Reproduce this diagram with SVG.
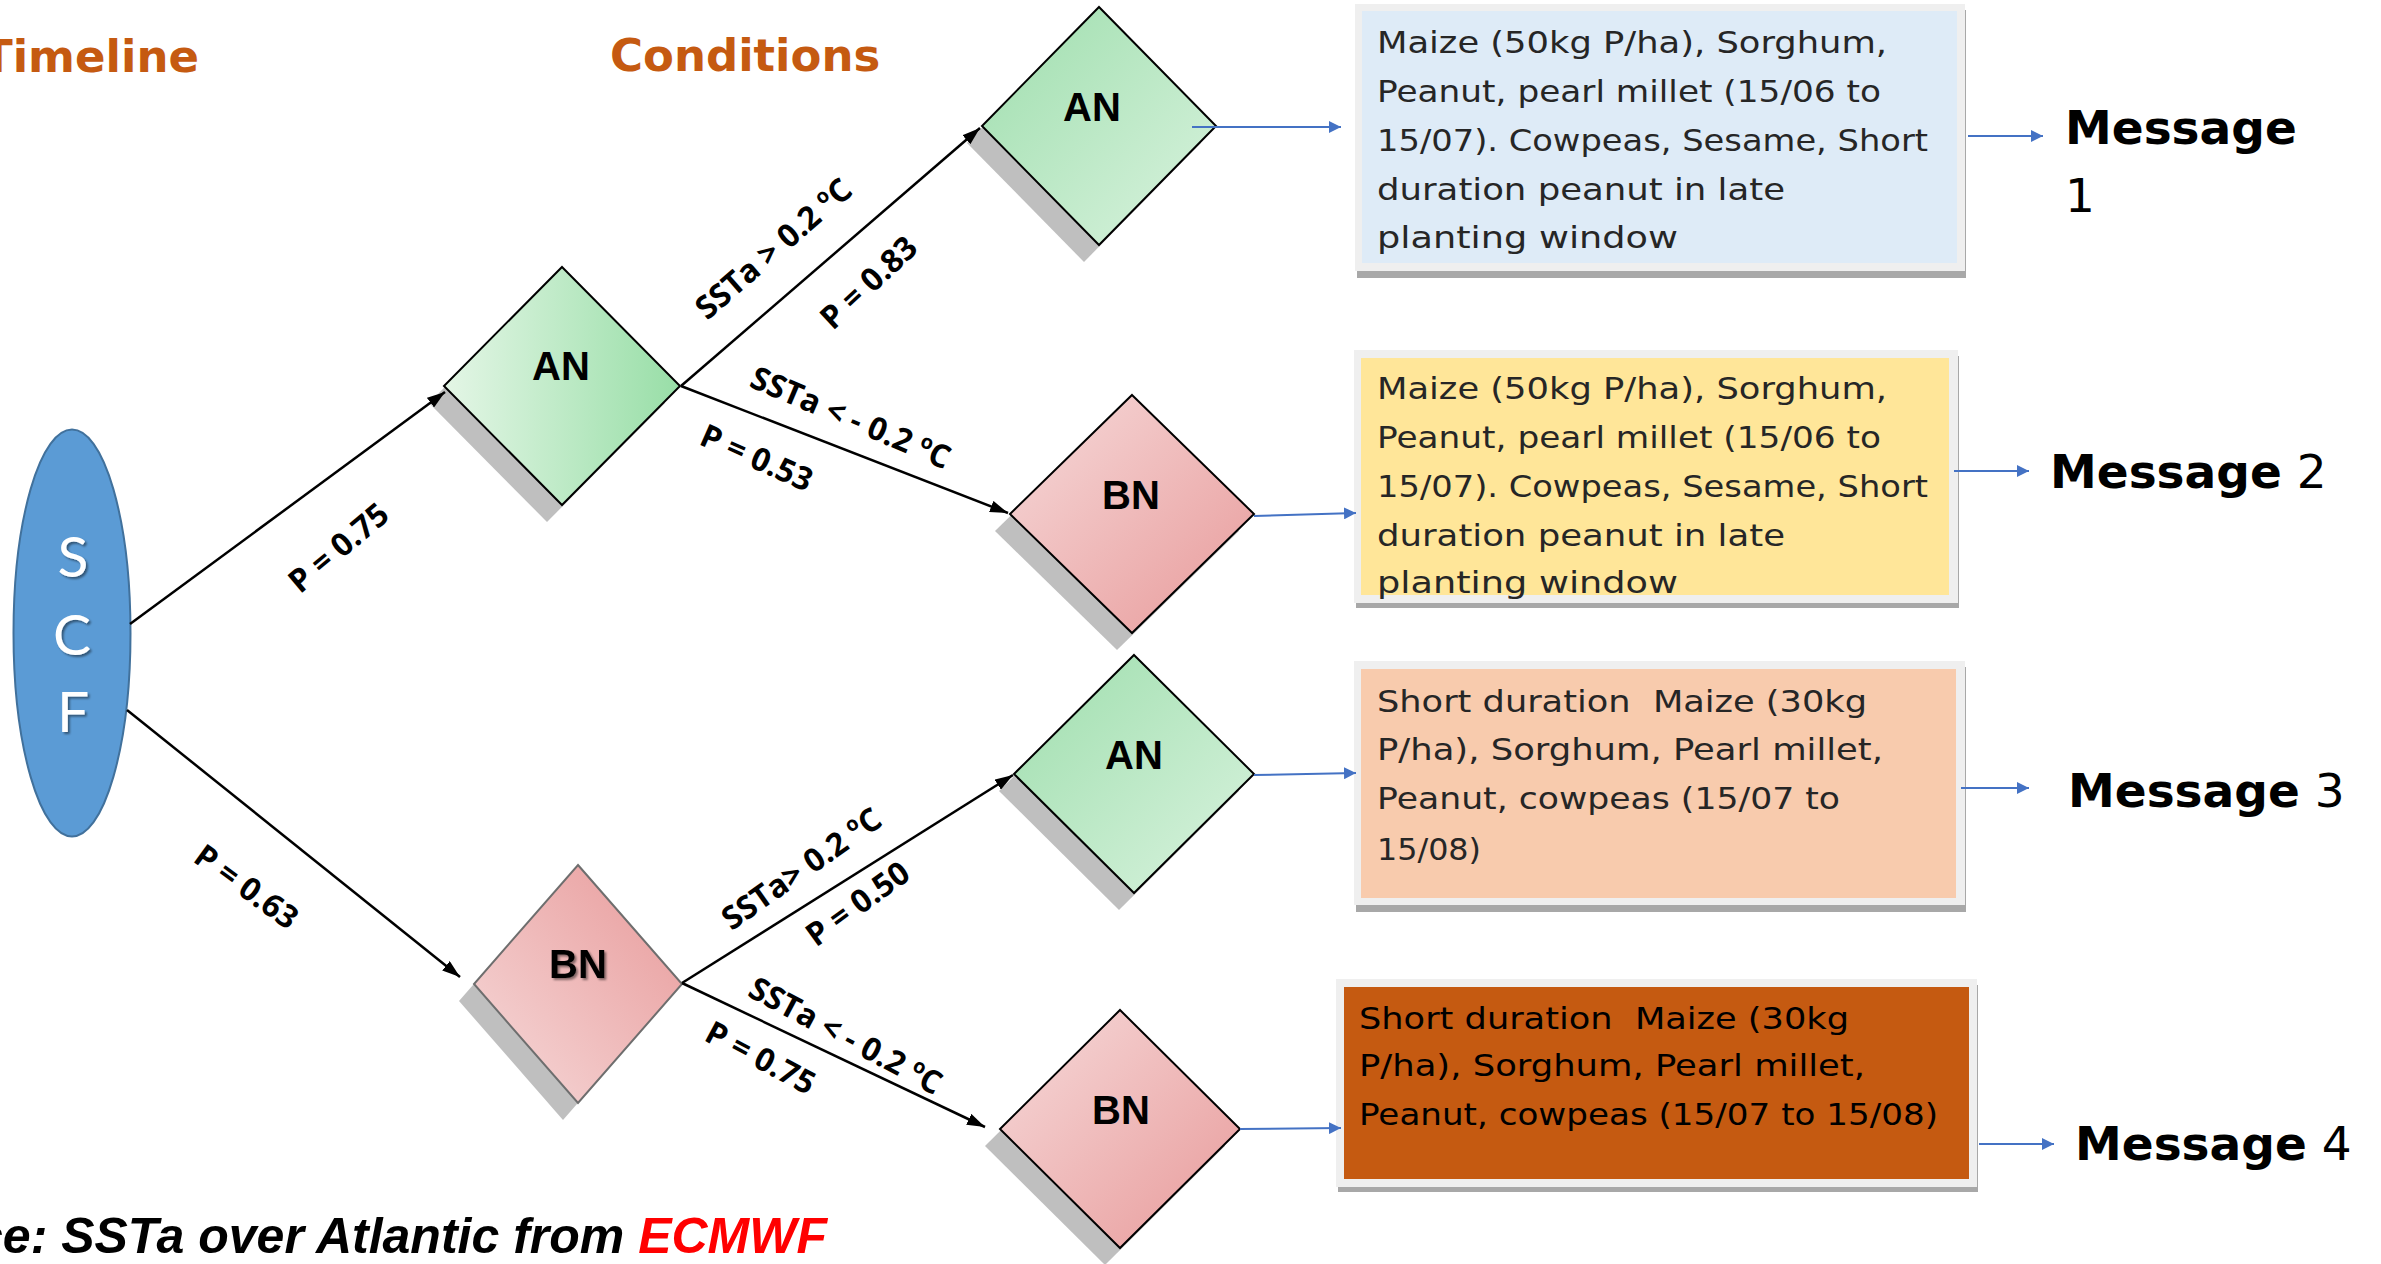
<svg xmlns="http://www.w3.org/2000/svg" width="2381" height="1264" viewBox="0 0 2381 1264">
<defs>
<style>
.hdr{font-family:"DejaVu Sans","Open Sans",sans-serif;font-weight:bold;font-size:45px;fill:#C55A11}
.shadow{fill:#BFBFBF}
.dia{stroke:#000;stroke-width:2}
.dtxt{font-family:"Liberation Sans",Arial,sans-serif;font-weight:bold;font-size:40px;fill:#000;text-anchor:middle}
.lbl{font-family:"Open Sans","Noto Sans",sans-serif;font-weight:bold;font-size:32px;fill:#000;text-anchor:middle}
.sup{font-size:20px}
.conn{stroke:#000;stroke-width:2.5;fill:none;marker-end:url(#ah)}
.bconn{stroke:#4472C4;stroke-width:2;fill:none;marker-end:url(#bh)}
.frame{fill:#EFEFEF}
.bshadow{fill:#A8A8A8}
.btxt{font-family:"DejaVu Sans","Open Sans",sans-serif;font-size:31px;fill:#262626}
.msg{font-family:"DejaVu Sans","Open Sans",sans-serif;font-size:47px;fill:#000}
.scf{font-family:Lato,"Open Sans",sans-serif;font-size:57px;fill:#fff;text-anchor:middle}
</style>
<linearGradient id="gAN1" x1="0" y1="0" x2="1" y2="0">
<stop offset="0" stop-color="#E4F6E6"/><stop offset="1" stop-color="#98DEA7"/>
</linearGradient>
<linearGradient id="gAN2" x1="0" y1="0" x2="1" y2="1">
<stop offset="0" stop-color="#9EDEAD"/><stop offset="1" stop-color="#DAF3DF"/>
</linearGradient>
<linearGradient id="gBN1" x1="0" y1="1" x2="1" y2="0">
<stop offset="0" stop-color="#F6DADA"/><stop offset="1" stop-color="#E89A9A"/>
</linearGradient>
<linearGradient id="gBN2" x1="0" y1="0" x2="1" y2="1">
<stop offset="0" stop-color="#F6DADA"/><stop offset="1" stop-color="#E89A9A"/>
</linearGradient>
<marker id="ah" viewBox="0 0 18 12" refX="18" refY="6" markerWidth="18" markerHeight="12" markerUnits="userSpaceOnUse" orient="auto">
<path d="M0,0 L18,6 L0,12 z" fill="#000"/>
</marker>
<marker id="bh" viewBox="0 0 12 12" refX="12" refY="6" markerWidth="12" markerHeight="12" markerUnits="userSpaceOnUse" orient="auto">
<path d="M0,0 L12,6 L0,12 z" fill="#4472C4"/>
</marker>
<filter id="ts" x="-20%" y="-20%" width="140%" height="140%">
<feDropShadow dx="2" dy="2" stdDeviation="1" flood-color="#000" flood-opacity="0.45"/>
</filter>
</defs>
<rect width="2381" height="1264" fill="#fff"/>

<g id="headers">
<text class="hdr" x="-18" y="72">Timeline</text>
<text class="hdr" x="610" y="71">Conditions</text>
</g>

<g id="node-scf">
<ellipse cx="72" cy="633" rx="58.5" ry="203.5" fill="#5B9BD5" stroke="#41719C" stroke-width="2"/>
<g filter="url(#ts)">
<text class="scf" x="73" y="577">S</text>
<text class="scf" x="72" y="655">C</text>
<text class="scf" x="73" y="732">F</text>
</g>
</g>

<g id="node-an1">
<polygon class="shadow" points="547,284 665,403 547,522 429,403"/>
<polygon class="dia" fill="url(#gAN1)" points="562,267 680,386 562,505 444,386"/>
<text class="dtxt" x="561" y="380">AN</text>
</g>

<g id="node-bn1">
<polygon class="shadow" points="563,882 667,1001 563,1120 459,1001"/>
<polygon fill="url(#gBN1)" stroke="#6E6E6E" stroke-width="2" points="578,865 682,984 578,1103 474,984"/>
<text class="dtxt" x="578" y="978" font-size="38" filter="url(#ts)">BN</text>
</g>

<g id="node-an2">
<polygon class="shadow" points="1084,24 1201,143 1084,262 967,143"/>
<polygon class="dia" fill="url(#gAN2)" points="1099,7 1216,126 1099,245 982,126"/>
<text class="dtxt" x="1092" y="121">AN</text>
</g>

<g id="node-bn2">
<polygon class="shadow" points="1117,412 1239,531 1117,650 995,531"/>
<polygon class="dia" fill="url(#gBN2)" points="1132,395 1254,514 1132,633 1010,514"/>
<text class="dtxt" x="1131" y="509">BN</text>
</g>

<g id="node-an3">
<polygon class="shadow" points="1119,672 1239,791 1119,910 999,791"/>
<polygon class="dia" fill="url(#gAN2)" points="1134,655 1254,774 1134,893 1014,774"/>
<text class="dtxt" x="1134" y="769">AN</text>
</g>

<g id="node-bn4">
<polygon class="shadow" points="1105,1027 1225,1146 1105,1265 985,1146"/>
<polygon class="dia" fill="url(#gBN2)" points="1120,1010 1240,1129 1120,1248 1000,1129"/>
<text class="dtxt" x="1121" y="1124">BN</text>
</g>

<g id="box1">
<rect class="bshadow" x="1357" y="10" width="609" height="268"/>
<rect class="frame" x="1355" y="4" width="610" height="267"/>
<rect x="1362" y="11" width="595" height="252" fill="#DEEBF7"/>
<text class="btxt"><tspan x="1377" y="53" textLength="510" lengthAdjust="spacingAndGlyphs">Maize (50kg P/ha), Sorghum,</tspan><tspan x="1377" y="102" textLength="504" lengthAdjust="spacingAndGlyphs">Peanut, pearl millet (15/06 to</tspan><tspan x="1377" y="151" textLength="551" lengthAdjust="spacingAndGlyphs">15/07). Cowpeas, Sesame, Short</tspan><tspan x="1377" y="200" textLength="408" lengthAdjust="spacingAndGlyphs">duration peanut in late</tspan><tspan x="1377" y="248" textLength="301" lengthAdjust="spacingAndGlyphs">planting window</tspan></text>
</g>

<g id="box2">
<rect class="bshadow" x="1356" y="356" width="603" height="252"/>
<rect class="frame" x="1354" y="350" width="604" height="253"/>
<rect x="1361" y="358" width="588" height="237" fill="#FFE699"/>
<text class="btxt"><tspan x="1377" y="399" textLength="510" lengthAdjust="spacingAndGlyphs">Maize (50kg P/ha), Sorghum,</tspan><tspan x="1377" y="448" textLength="504" lengthAdjust="spacingAndGlyphs">Peanut, pearl millet (15/06 to</tspan><tspan x="1377" y="497" textLength="551" lengthAdjust="spacingAndGlyphs">15/07). Cowpeas, Sesame, Short</tspan><tspan x="1377" y="546" textLength="408" lengthAdjust="spacingAndGlyphs">duration peanut in late</tspan><tspan x="1377" y="593" textLength="301" lengthAdjust="spacingAndGlyphs">planting window</tspan></text>
</g>

<g id="box3">
<rect class="bshadow" x="1356" y="667" width="610" height="245"/>
<rect class="frame" x="1354" y="661" width="611" height="244"/>
<rect x="1361" y="669" width="595" height="229" fill="#F8CBAD"/>
<text class="btxt" xml:space="preserve"><tspan x="1377" y="712" textLength="490" lengthAdjust="spacingAndGlyphs">Short duration  Maize (30kg</tspan><tspan x="1377" y="760" textLength="506" lengthAdjust="spacingAndGlyphs">P/ha), Sorghum, Pearl millet,</tspan><tspan x="1377" y="809" textLength="463" lengthAdjust="spacingAndGlyphs">Peanut, cowpeas (15/07 to</tspan><tspan x="1377" y="860" textLength="104" lengthAdjust="spacingAndGlyphs">15/08)</tspan></text>
</g>

<g id="box4">
<rect class="bshadow" x="1338" y="985" width="640" height="207"/>
<rect class="frame" x="1336" y="979" width="641" height="208"/>
<rect x="1344" y="987" width="625" height="192" fill="#C55A11"/>
<text class="btxt" style="fill:#000" xml:space="preserve"><tspan x="1359" y="1029" textLength="490" lengthAdjust="spacingAndGlyphs">Short duration  Maize (30kg</tspan><tspan x="1359" y="1076" textLength="506" lengthAdjust="spacingAndGlyphs">P/ha), Sorghum, Pearl millet,</tspan><tspan x="1359" y="1125" textLength="579" lengthAdjust="spacingAndGlyphs">Peanut, cowpeas (15/07 to 15/08)</tspan></text>
</g>

<g id="msg1">
<text class="msg"><tspan x="2065" y="144" font-weight="bold">Message</tspan><tspan x="2065" y="212">1</tspan></text>
</g>
<g id="msg2">
<text class="msg" x="2050" y="488"><tspan font-weight="bold">Message</tspan> 2</text>
</g>
<g id="msg3">
<text class="msg" x="2068" y="807"><tspan font-weight="bold">Message</tspan> 3</text>
</g>
<g id="msg4">
<text class="msg" x="2075" y="1160"><tspan font-weight="bold">Message</tspan> 4</text>
</g>

<g id="connectors">
<line class="conn" x1="130" y1="624" x2="445" y2="392"/>
<line class="conn" x1="127" y1="710" x2="460" y2="977"/>
<line class="conn" x1="681" y1="386" x2="980" y2="128"/>
<line class="conn" x1="681" y1="386" x2="1008" y2="513"/>
<line class="conn" x1="682" y1="983" x2="1013" y2="775"/>
<line class="conn" x1="682" y1="983" x2="985" y2="1127"/>
<line class="bconn" x1="1192" y1="127" x2="1341" y2="127"/>
<line class="bconn" x1="1968" y1="136" x2="2043" y2="136"/>
<line class="bconn" x1="1254" y1="516" x2="1356" y2="513"/>
<line class="bconn" x1="1954" y1="471" x2="2029" y2="471"/>
<line class="bconn" x1="1254" y1="775" x2="1356" y2="773"/>
<line class="bconn" x1="1961" y1="788" x2="2029" y2="788"/>
<line class="bconn" x1="1240" y1="1129" x2="1341" y2="1128"/>
<line class="bconn" x1="1979" y1="1144" x2="2054" y2="1144"/>
</g>

<g id="connector-labels">
<text class="lbl" transform="translate(338,547) rotate(-40)" y="12">P = 0.75</text>
<text class="lbl" transform="translate(247,886) rotate(36)" y="12">P = 0.63</text>
<text class="lbl" transform="translate(773,248) rotate(-41)" y="12">SSTa &gt; 0.2 <tspan class="sup" dy="-12">o</tspan><tspan dy="12">C</tspan></text>
<text class="lbl" transform="translate(868,282) rotate(-43)" y="12">P = 0.83</text>
<text class="lbl" transform="translate(851,417) rotate(23)" y="12">SSTa &lt; - 0.2 <tspan class="sup" dy="-12">o</tspan><tspan dy="12">C</tspan></text>
<text class="lbl" transform="translate(757,457) rotate(24)" y="12">P = 0.53</text>
<text class="lbl" transform="translate(801,868) rotate(-35)" y="12">SSTa&gt; 0.2 <tspan class="sup" dy="-12">o</tspan><tspan dy="12">C</tspan></text>
<text class="lbl" transform="translate(857,903) rotate(-36)" y="12">P = 0.50</text>
<text class="lbl" transform="translate(846,1035) rotate(28)" y="12">SSTa &lt; - 0.2 <tspan class="sup" dy="-12">o</tspan><tspan dy="12">C</tspan></text>
<text class="lbl" transform="translate(761,1057) rotate(28)" y="12">P = 0.75</text>
</g>

<g id="footer">
<text x="827" y="1253" text-anchor="end" font-family="'Liberation Sans',Arial,sans-serif" font-weight="bold" font-style="italic" font-size="50" fill="#000">Source: SSTa over Atlantic from <tspan fill="#FF0000">ECMWF</tspan></text>
</g>
</svg>
